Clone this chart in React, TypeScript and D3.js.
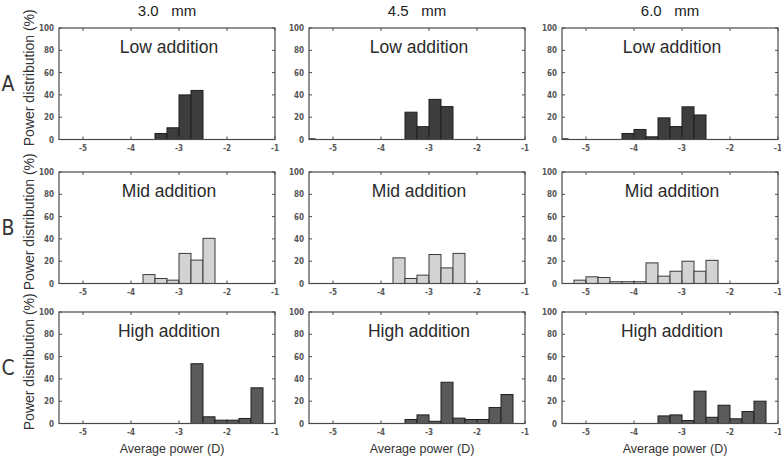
import React from "react";
import * as d3 from "d3";

// ---- data ----
const columnTitles = ["3.0   mm", "4.5   mm", "6.0   mm"];
const rowLabels = ["A", "B", "C"];
const rowTitles = ["Low addition", "Mid addition", "High addition"];
const xTicks = [-5, -4, -3, -2, -1];
const yTicks = [0, 20, 40, 60, 80, 100];
const binWidth = 0.25;

// Row A (Low addition)
const lowBins30 = [-3.5, -3.25, -3.0, -2.75];
const lowVals30 = [5.4, 10.5, 40, 44];
const lowBins45 = [-5.625, -3.5, -3.25, -3.0, -2.75];
const lowVals45 = [0.6, 24.5, 11.5, 36, 29.5];
const lowBins60 = [-5.625, -4.25, -4.0, -3.75, -3.5, -3.25, -3.0, -2.75];
const lowVals60 = [0.6, 5.4, 9, 2.4, 19.4, 11.6, 29.3, 22];

// Row B (Mid addition)
const midBins30 = [-3.75, -3.5, -3.25, -3.0, -2.75, -2.5];
const midVals30 = [8, 4.5, 3, 27, 21, 40.5];
const midBins45 = [-3.75, -3.5, -3.25, -3.0, -2.75, -2.5];
const midVals45 = [23, 4.5, 7.5, 26, 14, 27];
const midBins60 = [-5.25, -5.0, -4.75, -4.5, -4.25, -4.0, -3.75, -3.5, -3.25, -3.0, -2.75, -2.5];
const midVals60 = [3, 6, 5.4, 1.6, 1.6, 1.6, 18.5, 6.6, 11, 20, 11, 20.8];

// Row C (High addition)
const highBins30 = [-2.75, -2.5, -2.25, -2.0, -1.75, -1.5];
const highVals30 = [53.6, 6, 3, 3, 4.5, 32];
const highBins45 = [-3.5, -3.25, -3.0, -2.75, -2.5, -2.25, -2.0, -1.75, -1.5];
const highVals45 = [3.6, 7.7, 2, 37, 4.8, 3.6, 3.6, 14.3, 26];
const highBins60 = [-3.5, -3.25, -3.0, -2.75, -2.5, -2.25, -2.0, -1.75, -1.5];
const highVals60 = [6.8, 7.7, 2.7, 29, 5.6, 16.4, 4.2, 10.7, 20];

const panelBins = [
  [lowBins30, lowBins45, lowBins60],
  [midBins30, midBins45, midBins60],
  [highBins30, highBins45, highBins60],
];
const panelVals = [
  [lowVals30, lowVals45, lowVals60],
  [midVals30, midVals45, midVals60],
  [highVals30, highVals45, highVals60],
];

// ---- style / layout ----
const W = 781;
const H = 463;
const colLeft = [59, 309, 562];
const rowTop = [28, 172, 312];
const pw = 216;
const ph = 111.5;
const rowFill = ["#3d3d3d", "#d3d3d3", "#5a5a5a"];
const rowStroke = ["#1e1e1e", "#3a3a3a", "#1e1e1e"];
const axisColor = "#4a4a4a";
const tickFont = "'Liberation Sans Narrow', 'DejaVu Sans Condensed', 'Liberation Sans', sans-serif";
const textFont = "'Liberation Sans', Arial, sans-serif";

function Panel({ r, c }: { r: number; c: number }) {
  const x = d3.scaleLinear().domain([-5.5, -1]).range([0, pw]);
  const y = d3.scaleLinear().domain([0, 100]).range([ph, 0]);
  const bins = panelBins[r][c];
  const vals = panelVals[r][c];
  const clipId = `clip-${r}-${c}`;
  return (
    <g transform={`translate(${colLeft[c]},${rowTop[r]})`}>
      <defs>
        <clipPath id={clipId}>
          <rect x={0} y={0} width={pw} height={ph} />
        </clipPath>
      </defs>
      <g clipPath={`url(#${clipId})`}>
        {bins.map((b, i) => (
          <rect
            key={i}
            x={x(b)}
            y={y(vals[i])}
            width={x(b + binWidth) - x(b)}
            height={y(0) - y(vals[i])}
            fill={rowFill[r]}
            stroke={rowStroke[r]}
            strokeWidth={1}
          />
        ))}
      </g>
      <rect x={0} y={0} width={pw} height={ph} fill="none" stroke={axisColor} strokeWidth={1.2} />
      {xTicks.map((t) => (
        <g key={`xt${t}`}>
          <line x1={x(t)} x2={x(t)} y1={ph} y2={ph - 3} stroke={axisColor} strokeWidth={1} />
          <line x1={x(t)} x2={x(t)} y1={0} y2={3} stroke={axisColor} strokeWidth={1} />
          <text
            x={x(t)}
            y={ph + 11}
            textAnchor="middle"
            fontFamily={tickFont}
            fontWeight="bold"
            fontSize={8}
            fill="#555"
          >
            {t}
          </text>
        </g>
      ))}
      {yTicks.map((t) => (
        <g key={`yt${t}`}>
          <line x1={0} x2={3} y1={y(t)} y2={y(t)} stroke={axisColor} strokeWidth={1} />
          <line x1={pw} x2={pw - 3} y1={y(t)} y2={y(t)} stroke={axisColor} strokeWidth={1} />
          <text
            x={-5}
            y={y(t) + 3}
            textAnchor="end"
            fontFamily={tickFont}
            fontWeight="bold"
            fontSize={8}
            fill="#555"
          >
            {t}
          </text>
        </g>
      ))}
      <text
        x={pw / 2 + 2}
        y={25}
        textAnchor="middle"
        fontFamily={textFont}
        fontSize={17.5}
        fill="#2a2a2a"
      >
        {rowTitles[r]}
      </text>
    </g>
  );
}

export default function App() {
  return (
    <svg width={W} height={H} style={{ display: "block", position: "absolute", left: 0, top: 0 }}>
      <rect x={0} y={0} width={W} height={H} fill="#fff" />
      {columnTitles.map((t, c) => (
        <text
          key={t}
          x={colLeft[c] + pw / 2}
          y={16}
          textAnchor="middle"
          fontFamily={textFont}
          fontSize={15}
          fill="#222"
          style={{ whiteSpace: "pre" }}
        >
          {t}
        </text>
      ))}
      {rowLabels.map((l, r) => (
        <g key={l}>
          <text
            x={8}
            y={rowTop[r] + ph / 2 + 7}
            textAnchor="middle"
            fontFamily={tickFont}
            fontSize={21}
            fill="#333"
          >
            {l}
          </text>
          <text
            transform={`translate(34,${rowTop[r] + ph / 2 - 6}) rotate(-90)`}
            textAnchor="middle"
            fontFamily={textFont}
            fontSize={14}
            fill="#333"
          >
            Power distribution (%)
          </text>
        </g>
      ))}
      {[0, 1, 2].map((r) => [0, 1, 2].map((c) => <Panel key={`${r}-${c}`} r={r} c={c} />))}
      {columnTitles.map((t, c) => (
        <text
          key={`xl${c}`}
          x={colLeft[c] + pw / 2 + 5}
          y={453}
          textAnchor="middle"
          fontFamily={textFont}
          fontSize={12.5}
          fill="#333"
        >
          Average power (D)
        </text>
      ))}
    </svg>
  );
}
